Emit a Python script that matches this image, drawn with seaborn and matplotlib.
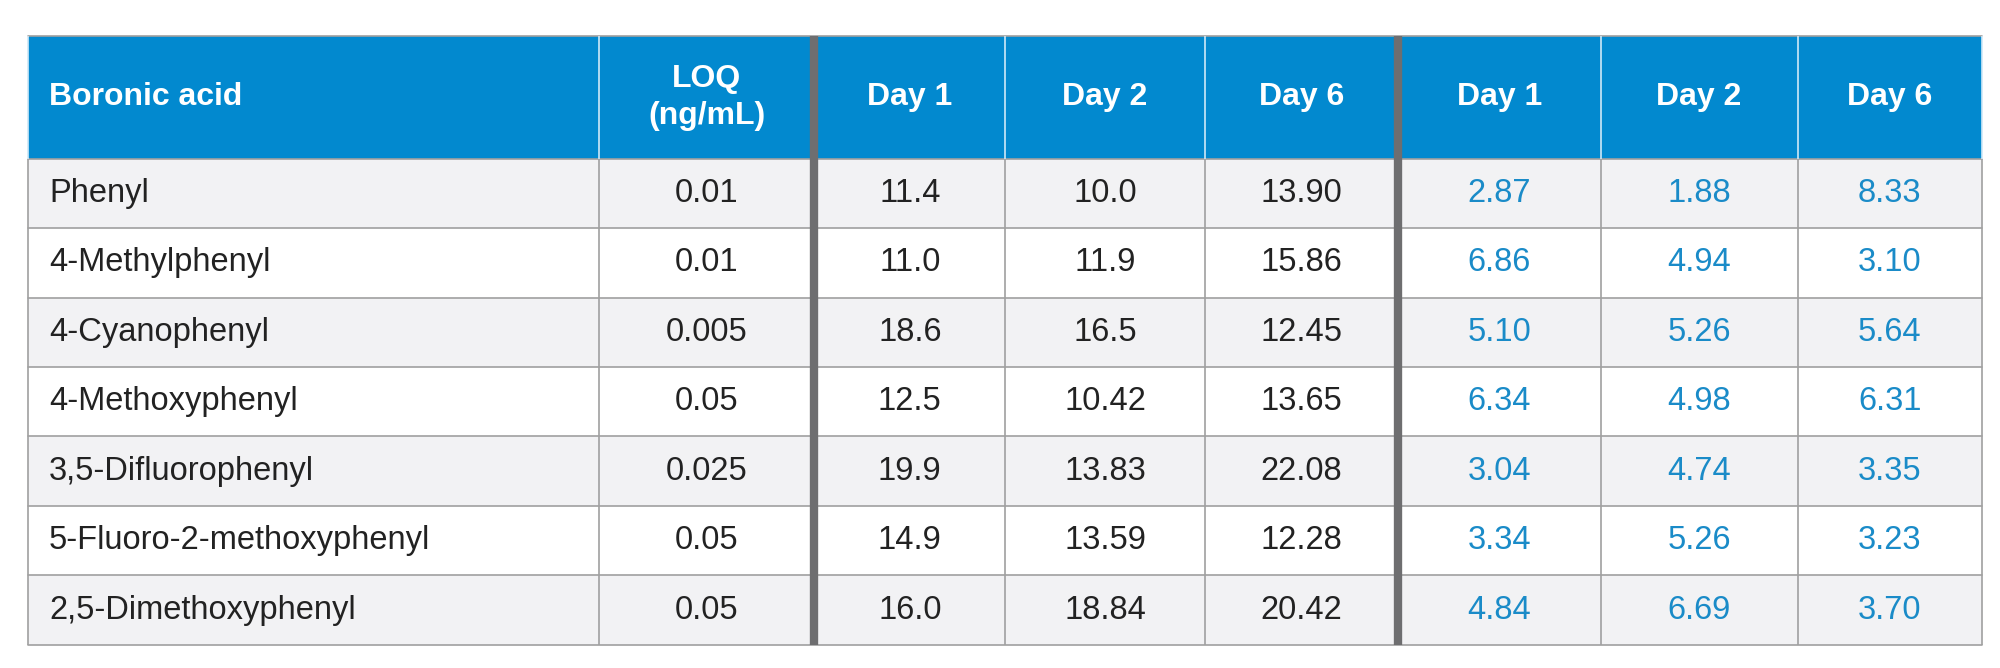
import matplotlib
matplotlib.use("Agg")
import matplotlib.pyplot as plt
import seaborn as sns
from matplotlib.patches import Rectangle

sns.set_theme(style="white", font="Liberation Sans")

names = ["Phenyl", "4-Methylphenyl", "4-Cyanophenyl", "4-Methoxyphenyl",
         "3,5-Difluorophenyl", "5-Fluoro-2-methoxyphenyl", "2,5-Dimethoxyphenyl"]
loq = ["0.01", "0.01", "0.005", "0.05", "0.025", "0.05", "0.05"]
set1_day1 = ["11.4", "11.0", "18.6", "12.5", "19.9", "14.9", "16.0"]
set1_day2 = ["10.0", "11.9", "16.5", "10.42", "13.83", "13.59", "18.84"]
set1_day6 = ["13.90", "15.86", "12.45", "13.65", "22.08", "12.28", "20.42"]
set2_day1 = ["2.87", "6.86", "5.10", "6.34", "3.04", "3.34", "4.84"]
set2_day2 = ["1.88", "4.94", "5.26", "4.98", "4.74", "5.26", "6.69"]
set2_day6 = ["8.33", "3.10", "5.64", "6.31", "3.35", "3.23", "3.70"]
headers = ["Boronic acid", "LOQ\n(ng/mL)", "Day 1", "Day 2", "Day 6", "Day 1", "Day 2", "Day 6"]

W, H = 1552, 518
xs = [22, 465, 632, 780, 935, 1085, 1242, 1395, 1538]
top, hbot, bot = 28, 123, 500
rh = (bot - hbot) / len(names)
blue = "#0289cf"
tblue = "#1a8bc8"

fig, ax = plt.subplots(figsize=(20, 6.68), dpi=100)
fig.subplots_adjust(0, 0, 1, 1)
ax.set_xlim(0, W)
ax.set_ylim(H, 0)
ax.axis("off")

ax.add_patch(Rectangle((xs[0], top), xs[-1] - xs[0], hbot - top, color=blue, lw=0))
for i in range(len(names)):
    y0 = hbot + i * rh
    ax.add_patch(Rectangle((xs[0], y0), xs[-1] - xs[0], rh,
                           color="#f2f2f4" if i % 2 == 0 else "white", lw=0))
    ax.plot([xs[0], xs[-1]], [y0, y0], color="#a0a0a0", lw=1.2)
ax.plot([xs[0], xs[-1]], [bot, bot], color="#a0a0a0", lw=1.2)
ax.plot([xs[0], xs[-1]], [top, top], color="#a0a0a0", lw=1.2)

for j, x in enumerate(xs):
    thick = j in (2, 5)
    ax.plot([x, x], [hbot, bot], color="#6e6e70" if thick else "#a0a0a0",
            lw=6 if thick else 1.2, solid_capstyle="butt")
    ax.plot([x, x], [top, hbot], color="#6e6e70" if thick else "#cfe8f7",
            lw=6 if thick else 1.2, solid_capstyle="butt")

for j, h in enumerate(headers):
    if j == 0:
        ax.text(xs[0] + 16, (top + hbot) / 2, h, color="white", weight="bold",
                fontsize=23, va="center", ha="left")
    else:
        ax.text((xs[j] + xs[j + 1]) / 2, (top + hbot) / 2, h, color="white",
                weight="bold", fontsize=23, va="center", ha="center", linespacing=1.3)

cols = [loq, set1_day1, set1_day2, set1_day6, set2_day1, set2_day2, set2_day6]
for i in range(len(names)):
    yc = hbot + (i + 0.5) * rh
    ax.text(xs[0] + 16, yc, names[i], color="#222222", fontsize=23.5, va="center")
    for k, col in enumerate(cols):
        ax.text((xs[k + 1] + xs[k + 2]) / 2, yc, col[i],
                color=tblue if k >= 4 else "#222222", fontsize=23.5,
                va="center", ha="center")

fig.savefig("out.png", dpi=100)
